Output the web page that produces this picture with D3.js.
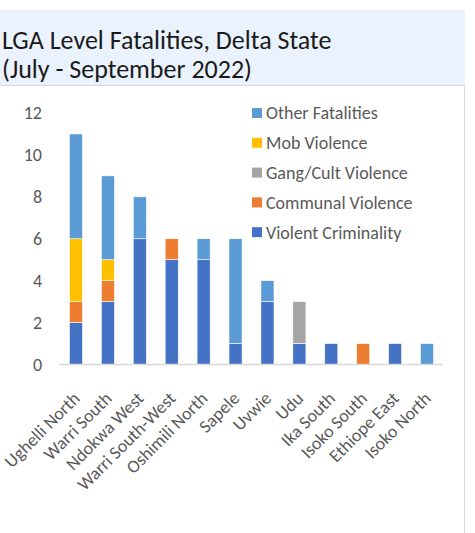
<!DOCTYPE html>
<html>
<head>
<meta charset="utf-8">
<script src="https://cdn.jsdelivr.net/npm/d3@7"></script>
<style>
  html, body { margin: 0; padding: 0; background: #ffffff; }
  svg { display: block; }
</style>
</head>
<body>
<svg id="chart" width="475" height="533"></svg>
<script>
// LGA names along the x axis
const lgas = ["Ughelli North", "Warri South", "Ndokwa West", "Warri South-West", "Oshimili North",
  "Sapele", "Uvwie", "Udu", "Ika South", "Isoko South", "Ethiope East", "Isoko North"];

// Fatalities per category, one value per LGA (stacked bottom to top)
const violentCriminality = [2, 3, 6, 5, 5, 1, 3, 1, 1, 0, 1, 0];
const communalViolence   = [1, 1, 0, 1, 0, 0, 0, 0, 0, 1, 0, 0];
const gangCultViolence   = [0, 0, 0, 0, 0, 0, 0, 2, 0, 0, 0, 0];
const mobViolence        = [3, 1, 0, 0, 0, 0, 0, 0, 0, 0, 0, 0];
const otherFatalities    = [5, 4, 2, 0, 1, 5, 1, 0, 0, 0, 0, 1];

const seriesNames = ["Violent Criminality", "Communal Violence", "Gang/Cult Violence", "Mob Violence", "Other Fatalities"];
const seriesColors = ["#4472C4", "#ED7D31", "#A5A5A5", "#FFC000", "#5B9BD5"];
const yTicks = [0, 2, 4, 6, 8, 10, 12];

const titleLines = ["LGA Level Fatalities, Delta State", "(July - September 2022)"];

const table = lgas.map((lga, i) => ({
  lga,
  "Violent Criminality": violentCriminality[i],
  "Communal Violence": communalViolence[i],
  "Gang/Cult Violence": gangCultViolence[i],
  "Mob Violence": mobViolence[i],
  "Other Fatalities": otherFatalities[i]
}));

const svg = d3.select("#chart");
const font = "Carlito, Calibri, Lato, 'Open Sans', sans-serif";
const textGray = "#595959";

// Title band
svg.append("rect").attr("x", 0).attr("y", 10).attr("width", 465).attr("height", 75).attr("fill", "#EAF3FD");
svg.selectAll("text.title").data(titleLines).join("text")
  .attr("class", "title")
  .attr("x", 2)
  .attr("y", (d, i) => 49 + i * 29)
  .attr("font-family", font)
  .attr("font-size", 26)
  .attr("fill", "#1a1a1a")
  .text(d => d);

// Chart frame (top and right edges)
svg.append("path")
  .attr("d", "M0,85.5H464.5V533")
  .attr("fill", "none").attr("stroke", "#D9D9D9").attr("stroke-width", 1);

const x = d3.scaleBand().domain(lgas).range([60, 443]).paddingInner(0.59).paddingOuter(0.295);
const y = d3.scaleLinear().domain([0, 12]).range([364.5, 113]);

const stack = d3.stack().keys(seriesNames);
const stacked = stack(table);

const g = svg.append("g");
g.selectAll("g.series").data(stacked).join("g")
  .attr("class", "series")
  .attr("fill", (d, i) => seriesColors[i])
  .selectAll("rect").data(d => d.filter(p => p[1] > p[0])).join("rect")
  .attr("x", d => x(d.data.lga))
  .attr("width", x.bandwidth())
  .attr("y", d => y(d[1]))
  .attr("height", d => y(d[0]) - y(d[1]))
  .attr("stroke", "#ffffff")
  .attr("stroke-width", 0.6);

// Y axis labels (no axis line)
const yAxis = d3.axisLeft(y).tickValues(yTicks).tickSize(0).tickPadding(0).tickFormat(d3.format("d"));
const ya = svg.append("g").attr("transform", "translate(42,0)").call(yAxis);
ya.select(".domain").remove();
ya.selectAll("text").attr("font-family", font).attr("font-size", 18).attr("fill", textGray);

// X axis baseline and rotated labels
const xAxis = d3.axisBottom(x).tickSize(0).tickPadding(0);
const xa = svg.append("g").attr("transform", "translate(0,364.5)").call(xAxis);
xa.select(".domain").attr("d", "M59,0H443").attr("stroke", "#D9D9D9").attr("stroke-width", 1.5);
xa.selectAll(".tick text")
  .attr("font-family", font).attr("font-size", 18).attr("fill", textGray)
  .attr("text-anchor", "end")
  .attr("dy", 0)
  .attr("transform", "translate(5,35) rotate(-45)");

// Legend
const legendOrder = [4, 3, 2, 1, 0];
const lg = svg.append("g").selectAll("g").data(legendOrder).join("g")
  .attr("transform", (d, i) => `translate(252,${113 + i * 29.8})`);
lg.append("rect").attr("x", 0).attr("y", -5).attr("width", 10).attr("height", 10)
  .attr("fill", d => seriesColors[d]);
lg.append("text").attr("x", 14).attr("y", 0).attr("dy", "0.35em")
  .attr("font-family", font).attr("font-size", 18).attr("fill", textGray)
  .text(d => seriesNames[d]);
</script>
</body>
</html>
